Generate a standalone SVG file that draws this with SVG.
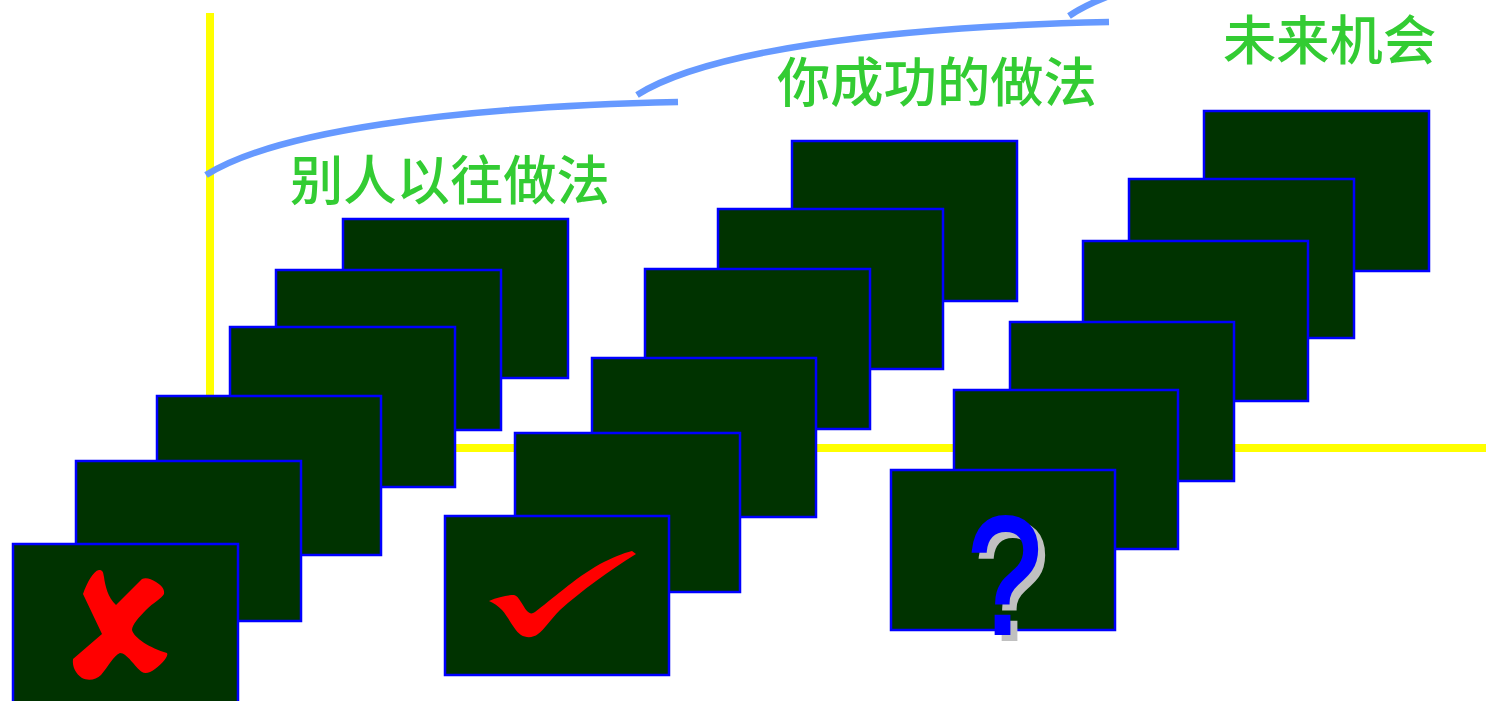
<svg xmlns="http://www.w3.org/2000/svg" width="1486" height="701" viewBox="0 0 1486 701">
<style>
.card{fill:#003300;stroke:#0000ff;stroke-width:2.5}
.axis{fill:#ffff00}
.curve{fill:none;stroke:#6699ff;stroke-width:6.5}
.label{font-family:"Noto Sans CJK SC","Noto Sans CJK TC",sans-serif;font-size:53.3px;font-weight:500;fill:#33cc33}
.mark{fill:#ff0000}
.q{font-family:"Liberation Sans",Arial,sans-serif;font-size:165px;fill:#0000ff;stroke:#0000ff;stroke-width:4}
</style>
<defs>
<filter id="qshadow" filterUnits="userSpaceOnUse" x="940" y="490" width="130" height="170" color-interpolation-filters="sRGB">
<feOffset in="SourceAlpha" dx="7" dy="6" result="o"/>
<feFlood flood-color="#c0c0c0"/>
<feComposite in2="o" operator="in" result="s"/>
<feMerge><feMergeNode in="s"/><feMergeNode in="SourceGraphic"/></feMerge>
</filter>
</defs>
<rect width="1486" height="701" fill="#ffffff"/>
<g id="axes">
<rect class="axis" x="206" y="13" width="8" height="400"/>
<rect class="axis" x="206" y="444" width="1280" height="8"/>
</g>
<g id="connectors">
<path class="curve" d="M206 175C274 132 449 107 678 102"/>
<path class="curve" d="M637 95C705 52 880 27 1109 22"/>
<path class="curve" d="M1069 16C1085 5 1100 -1 1120 -8"/>
</g>
<g id="label-1"><text class="label" x="290" y="200">别人以往做法</text></g>
<g id="label-2"><text class="label" x="777" y="102">你成功的做法</text></g>
<g id="label-3"><text class="label" x="1223" y="60">未来机会</text></g>
<g id="column-1">
<rect class="card" x="343" y="219" width="225" height="159"/>
<rect class="card" x="276" y="270" width="225" height="160"/>
<rect class="card" x="230" y="327" width="225" height="160"/>
<rect class="card" x="157" y="396" width="224" height="159"/>
<rect class="card" x="76" y="461" width="225" height="160"/>
<rect class="card" x="13" y="544" width="225" height="160"/>
<path class="mark" d="M83 594C87 583 93 571 99 570C103 570 103 572 104 577C105 585 108 598 116 605L142 579C146 577 151 579 156 582C161 585 165 589 164 594C162 598 153 603 146 610C139 617 132 625 132 630C134 638 150 648 167 653C169 656 162 664 155 669C150 673 145 674 142 672C135 667 127 653 120 653C114 655 108 667 101 675C96 680 88 681 82 678C76 674 72 667 73 659L102 634Z"/>
</g>
<g id="column-2">
<rect class="card" x="792" y="141" width="225" height="160"/>
<rect class="card" x="718" y="209" width="225" height="160"/>
<rect class="card" x="645" y="269" width="225" height="160"/>
<rect class="card" x="592" y="358" width="224" height="159"/>
<rect class="card" x="515" y="433" width="225" height="159"/>
<rect class="card" x="445" y="516" width="224" height="159"/>
<path class="mark" d="M489 601C498 597 508 595 514 595C519 596 522 605 527 611C530 614 532 614 535 612C550 601 575 578 600 564C612 558 623 553 632 551L636 554C610 570 580 592 560 610C550 620 544 630 538 634C533 638 526 638 521 635C514 630 509 618 502 610C498 606 494 603 489 601Z"/>
</g>
<g id="column-3">
<rect class="card" x="1204" y="111" width="225" height="160"/>
<rect class="card" x="1129" y="179" width="225" height="159"/>
<rect class="card" x="1083" y="241" width="225" height="160"/>
<rect class="card" x="1010" y="322" width="224" height="159"/>
<rect class="card" x="954" y="390" width="224" height="159"/>
<rect class="card" x="891" y="470" width="224" height="160"/>
<g filter="url(#qshadow)"><text class="q" transform="translate(968 633) scale(.8 1)">?</text></g>
</g>
</svg>
